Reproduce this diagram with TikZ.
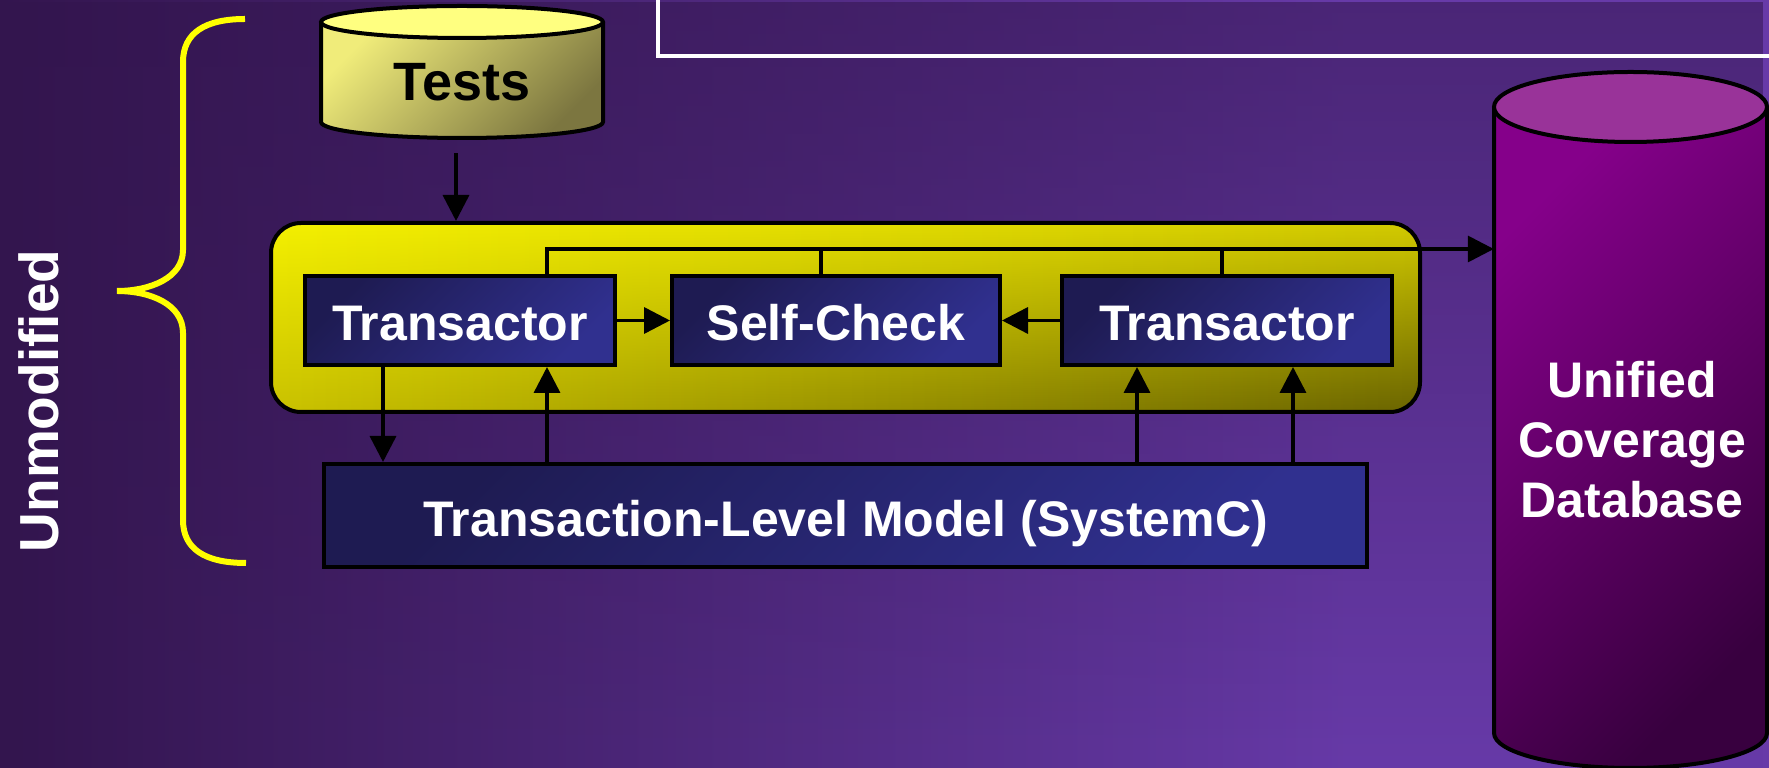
\documentclass[tikz,border=0pt]{standalone}
\usepackage{fontspec}
\setmainfont{Liberation Sans}
\usetikzlibrary{arrows.meta,fadings}

\definecolor{bgdark}{HTML}{33154E}
\definecolor{bglight}{HTML}{673AA8}
\definecolor{navyA}{HTML}{1E1B52}
\definecolor{navyB}{HTML}{30308F}
\definecolor{yelTL}{HTML}{F4F000}
\definecolor{yelTR}{HTML}{D2CA00}
\definecolor{yelBL}{HTML}{CAC200}
\definecolor{yelBR}{HTML}{6A6400}
\definecolor{testsA}{HTML}{F0EC7A}
\definecolor{testsB}{HTML}{7C7640}
\definecolor{testsTop}{HTML}{FFFF80}
\definecolor{ucdA}{HTML}{85008A}
\definecolor{ucdB}{HTML}{38003F}
\definecolor{ucdTop}{HTML}{993399}
\definecolor{braceYellow}{HTML}{FFFF00}

\begin{document}
\begin{tikzpicture}[x=1pt,y=1pt,
  lbl/.style={font=\fontsize{50}{60}\selectfont\bfseries, text=white, inner sep=0pt},
  navybox/.style={draw=black, line width=4pt, top color=navyA, bottom color=navyB,
    shading angle=45, inner sep=0pt},
  conn/.style={draw=black, line width=3.5pt},
  arr/.style={conn, -{Triangle[length=26pt,width=26pt]}},
]
\useasboundingbox (0,0) rectangle (1769,768);

% background
\shade[left color=bgdark, right color=bglight] (0,0) rectangle (1350,768);
\fill[bglight] (1349,0) rectangle (1769,768);
\fill[bgdark, path fading=south, fill opacity=0.55] (0,0) rectangle (1769,768);

% white frame at the top
\draw[white, line width=3.5pt] (658,775) -- (658,712) -- (1775,712);

% brace
\draw[braceYellow, line width=6pt]
  (245,749) .. controls (205,749) and (183,735) .. (183,706)
  -- (183,518) .. controls (183,490) and (150,477) .. (117,477)
  .. controls (150,477) and (183,464) .. (183,435)
  -- (183,248) .. controls (183,219) and (205,205) .. (246,205);
\node[lbl, font=\fontsize{55}{66}\selectfont\bfseries, rotate=90] (unmod) at (39,367) {Unmodified};

% Tests database
\shade[top color=testsA, bottom color=testsB, shading angle=45]
  (321,746) -- (321,646) arc[start angle=180, end angle=360, x radius=141, y radius=16]
  -- (603,746) -- cycle;
\draw[black, line width=4pt]
  (321,746) -- (321,646) arc[start angle=180, end angle=360, x radius=141, y radius=16]
  -- (603,746);
\filldraw[fill=testsTop, draw=black, line width=4pt] (462,746) ellipse [x radius=141, y radius=16];
\node[inner sep=0pt, minimum width=282pt, minimum height=132pt] (testsdb) at (462,696) {};
\node[lbl, text=black, font=\fontsize{54}{64}\selectfont\bfseries, anchor=base] (testslbl) at (462,667) {Tests};

% test harness: two-way gradient fill, then the outline
\begin{scope}
  \clip[rounded corners=30pt] (271,356) rectangle (1420,545);
  \shade[left color=yelTL, right color=yelTR] (271,356) rectangle (1420,545);
  \shade[left color=yelBL, right color=yelBR, path fading=north] (271,356) rectangle (1420,545);
\end{scope}
\node[draw=black, line width=4pt, rounded corners=30pt,
  minimum width=1149pt, minimum height=189pt, inner sep=0pt]
  (harness) at (845.5,450.5) {};

\node[navybox, minimum width=310pt, minimum height=89pt] (t1) at (460,447.5) {};
\node[navybox, minimum width=328pt, minimum height=89pt] (sc) at (836,447.5) {};
\node[navybox, minimum width=330pt, minimum height=89pt] (t2) at (1227,447.5) {};
\node[lbl, anchor=base] (t1lbl) at (460,427) {Transactor};
\node[lbl, anchor=base] (sclbl) at (836,427) {Self-Check};
\node[lbl, anchor=base] (t2lbl) at (1227,427) {Transactor};

% transaction-level model
\node[navybox, minimum width=1043pt, minimum height=103pt] (tlm) at (845.5,252.5) {};
\node[lbl, anchor=base] (tlmlbl) at (845.5,231) {Transaction-Level Model (SystemC)};

% coverage database
\shade[top color=ucdA, bottom color=ucdB, shading angle=45]
  (1494,661) -- (1494,35) arc[start angle=180, end angle=360, x radius=136.5, y radius=35]
  -- (1767,661) -- cycle;
\draw[black, line width=4pt]
  (1494,661) -- (1494,35) arc[start angle=180, end angle=360, x radius=136.5, y radius=35]
  -- (1767,661);
\filldraw[fill=ucdTop, draw=black, line width=4pt] (1630.5,661) ellipse [x radius=136.5, y radius=35];
\node[inner sep=0pt, minimum width=273pt, minimum height=626pt] (ucd) at (1630.5,348) {};
\node[lbl, anchor=base] (ucd1) at (1632,370) {Unified};
\node[lbl, anchor=base] (ucd2) at (1632,310) {Coverage};
\node[lbl, anchor=base] (ucd3) at (1632,250) {Database};

% connectors
\coordinate (bus) at (0,519);
\draw[arr] ([xshift=-6pt,yshift=-15pt]testsdb.south) -- ([xshift=-6pt]testsdb.south |- harness.north);
\draw[arr] ([xshift=87pt]t1.north) |- (ucd.west |- bus);
\draw[conn] ([xshift=-15pt]sc.north) -- ([xshift=-15pt]sc.north |- bus);
\draw[conn] ([xshift=-5pt]t2.north) -- ([xshift=-5pt]t2.north |- bus);
\draw[arr] (t1.east) -- (sc.west);
\draw[arr] (t2.west) -- (sc.east);
\draw[arr] ([xshift=-77pt]t1.south) -- ([xshift=-77pt]t1.south |- tlm.north);
\draw[arr] ([xshift=87pt]t1.south |- tlm.north) -- ([xshift=87pt]t1.south);
\draw[arr] ([xshift=-90pt]t2.south |- tlm.north) -- ([xshift=-90pt]t2.south);
\draw[arr] ([xshift=66pt]t2.south |- tlm.north) -- ([xshift=66pt]t2.south);
\end{tikzpicture}
\end{document}
